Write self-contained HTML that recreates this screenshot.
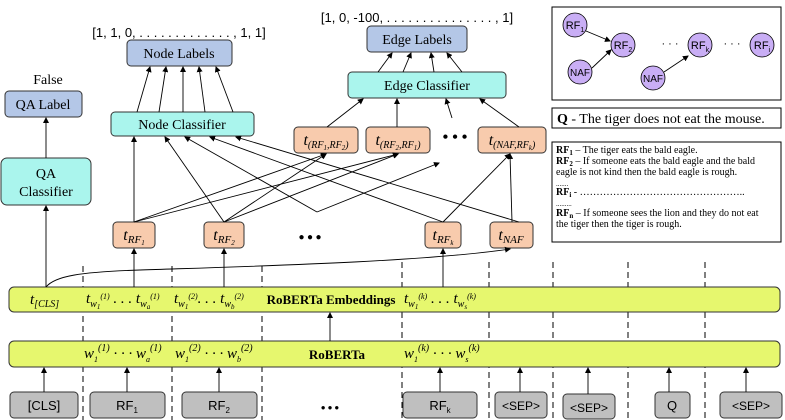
<!DOCTYPE html>
<html><head><meta charset="utf-8"><style>
body{margin:0;background:#fff}
svg{display:block}
text{font-family:"Liberation Serif",serif;fill:#000}
.s{font-family:"Liberation Sans",sans-serif}
.i{font-style:italic}
</style></head><body>
<svg width="785" height="420" viewBox="0 0 785 420" xmlns="http://www.w3.org/2000/svg">
<defs><marker id="a" markerWidth="6" markerHeight="6" refX="5" refY="3" orient="auto" markerUnits="userSpaceOnUse"><path d="M0,0 L6,3 L0,6 z" fill="#000"/></marker></defs>
<g stroke="#000" stroke-width="1" fill="none">
<g stroke-dasharray="6,4">
<line x1="83" y1="266" x2="83" y2="420"/><line x1="172" y1="266" x2="172" y2="420"/><line x1="262" y1="266" x2="262" y2="420"/><line x1="402" y1="262" x2="402" y2="420"/><line x1="489" y1="262" x2="489" y2="420"/><line x1="553" y1="262" x2="553" y2="420"/><line x1="628" y1="262" x2="628" y2="420"/><line x1="705" y1="262" x2="705" y2="420"/>
</g>
</g>
<g stroke="#333" stroke-width="1">
<rect x="127" y="40" width="105" height="26" rx="4" fill="#b4c7e7"/>
<rect x="367" y="26" width="100" height="26" rx="4" fill="#b4c7e7"/>
<rect x="5" y="91" width="77" height="26" rx="4" fill="#b4c7e7"/>
<rect x="348" y="72" width="158" height="26" rx="4" fill="#aaf5ed"/>
<rect x="111" y="112" width="143" height="24" rx="4" fill="#aaf5ed"/>
<rect x="1" y="158" width="90" height="47" rx="6" fill="#aaf5ed"/>
<rect x="294" y="127" width="64" height="26" rx="4" fill="#f8cbad"/>
<rect x="366" y="127" width="64" height="26" rx="4" fill="#f8cbad"/>
<rect x="478" y="127" width="68" height="26" rx="4" fill="#f8cbad"/>
<rect x="113" y="222" width="42" height="26" rx="4" fill="#f8cbad"/>
<rect x="204" y="222" width="40" height="26" rx="4" fill="#f8cbad"/>
<rect x="425" y="222" width="36" height="26" rx="4" fill="#f8cbad"/>
<rect x="490" y="222" width="43" height="26" rx="4" fill="#f8cbad"/>
<rect x="9" y="287" width="771" height="25" rx="5" fill="#e6f76e"/>
<rect x="9" y="341" width="771" height="26" rx="5" fill="#e6f76e"/>
<g fill="#bfbfbf">
<rect x="10" y="392" width="68" height="26" rx="4"/><rect x="90" y="392" width="75" height="26" rx="4"/><rect x="182" y="392" width="75" height="26" rx="4"/><rect x="403" y="392" width="74" height="26" rx="4"/><rect x="495" y="392" width="52" height="26" rx="4"/><rect x="563" y="394" width="52" height="25" rx="4"/><rect x="655" y="392" width="35" height="26" rx="4"/><rect x="720" y="392" width="62" height="26" rx="4"/>
</g>
<rect x="552" y="7" width="229" height="93" fill="#fff" stroke="#000"/>
<rect x="552" y="108" width="229" height="20" fill="#fff" stroke="#000"/>
<rect x="552" y="142" width="229" height="100" fill="#fff" stroke="#000"/>
</g>
<g stroke="#000" stroke-width="0.9" fill="none" marker-end="url(#a)">
<line x1="46" y1="158" x2="46" y2="118"/>
<line x1="46" y1="287" x2="46" y2="206"/>
<line x1="137" y1="112" x2="150" y2="67"/><line x1="159" y1="112" x2="166" y2="67"/><line x1="183" y1="112" x2="183" y2="67"/><line x1="205" y1="112" x2="199" y2="67"/><line x1="233" y1="112" x2="216" y2="67"/>
<line x1="378" y1="72" x2="392" y2="53"/><line x1="403" y1="72" x2="411" y2="53"/><line x1="434" y1="72" x2="431" y2="53"/><line x1="462" y1="72" x2="447" y2="53"/>
<line x1="327" y1="127" x2="363" y2="99"/><line x1="397" y1="127" x2="397" y2="99"/><line x1="452" y1="118" x2="446" y2="99"/><line x1="519" y1="127" x2="480" y2="99"/>
<line x1="134" y1="222" x2="134" y2="137"/>
<line x1="134" y1="222" x2="326" y2="154"/><line x1="134" y1="222" x2="398" y2="154"/>
<line x1="224" y1="222" x2="165" y2="137"/><line x1="224" y1="222" x2="326" y2="154"/><line x1="224" y1="222" x2="398" y2="154"/>
<line x1="317" y1="212" x2="185" y2="137"/><line x1="317" y1="212" x2="439" y2="163"/>
<line x1="443" y1="222" x2="210" y2="137"/><line x1="443" y1="222" x2="510" y2="154"/>
<line x1="519" y1="222" x2="236" y2="137"/><line x1="512" y1="222" x2="510" y2="154"/>
<line x1="134" y1="287" x2="134" y2="249"/><line x1="224" y1="287" x2="224" y2="249"/><line x1="443" y1="287" x2="443" y2="249"/>
<path d="M46,287 C55,276 80,272 140,270 C260,266 420,262 510,249"/>
<line x1="330" y1="341" x2="330" y2="313"/>
<line x1="44" y1="392" x2="44" y2="368"/><line x1="127" y1="392" x2="127" y2="368"/><line x1="219" y1="392" x2="219" y2="368"/><line x1="440" y1="392" x2="440" y2="368"/><line x1="520" y1="392" x2="520" y2="368"/><line x1="588" y1="394" x2="588" y2="368"/><line x1="669" y1="392" x2="669" y2="368"/><line x1="746" y1="392" x2="746" y2="368"/>
<line x1="586" y1="31" x2="610" y2="41"/><line x1="592" y1="68" x2="611" y2="50"/><line x1="664" y1="72" x2="688" y2="56"/>
</g>
<g fill="#c9aef5" stroke="#000" stroke-width="0.8">
<circle cx="575" cy="25" r="12"/><circle cx="623" cy="45" r="12"/><circle cx="580" cy="72" r="12"/><circle cx="700" cy="45" r="12"/><circle cx="653" cy="78" r="12"/><circle cx="762" cy="45" r="12"/>
</g>
<g class="s" font-size="11" text-anchor="middle">
<text x="575" y="29" class="s">RF<tspan font-size="7" dy="3">1</tspan></text>
<text x="623" y="49" class="s">RF<tspan font-size="7" dy="3">2</tspan></text>
<text x="580" y="76" class="s" font-size="10">NAF</text>
<text x="700" y="49" class="s">RF<tspan font-size="7" dy="3">k</tspan></text>
<text x="653" y="82" class="s" font-size="10">NAF</text>
<text x="762" y="49" class="s">RF<tspan font-size="7" dy="3">i</tspan></text>
<text x="670" y="47" class="s">· · ·</text><text x="732" y="47" class="s">· · ·</text>
</g>
<g font-size="14" text-anchor="middle">
<text x="179" y="58">Node Labels</text>
<text x="417" y="44">Edge Labels</text>
<text x="43" y="109">QA Label</text>
<text x="427" y="90">Edge Classifier</text>
<text x="182" y="129">Node Classifier</text>
<text x="46" y="178">QA</text><text x="46" y="196">Classifier</text>
<text x="48" y="84">False</text>
<text x="179" y="37" class="s" font-size="13">[1, 1, 0, . . . . . . . . . . . . . , 1, 1]</text>
<text x="417" y="22" class="s" font-size="13">[1, 0, -100, . . . . . . . . . . . . . . . , 1]</text>
</g>
<g font-size="16" class="i" text-anchor="middle">
<text x="326" y="145">t<tspan font-size="10" dy="3">(RF<tspan font-size="7" dy="2">1</tspan><tspan dy="-2">,RF</tspan><tspan font-size="7" dy="2">2</tspan><tspan dy="-2">)</tspan></tspan></text>
<text x="398" y="145">t<tspan font-size="10" dy="3">(RF<tspan font-size="7" dy="2">2</tspan><tspan dy="-2">,RF</tspan><tspan font-size="7" dy="2">1</tspan><tspan dy="-2">)</tspan></tspan></text>
<text x="512" y="145">t<tspan font-size="10" dy="3">(NAF,RF<tspan font-size="7" dy="2">k</tspan><tspan dy="-2">)</tspan></tspan></text>
<text x="134" y="240">t<tspan font-size="11" dy="3">RF<tspan font-size="7" dy="2">1</tspan></tspan></text>
<text x="224" y="240">t<tspan font-size="11" dy="3">RF<tspan font-size="7" dy="2">2</tspan></tspan></text>
<text x="443" y="240">t<tspan font-size="11" dy="3">RF<tspan font-size="7" dy="2">k</tspan></tspan></text>
<text x="511" y="240">t<tspan font-size="11" dy="3">NAF</tspan></text>
</g>
<g fill="#1f3864" font-size="16" font-weight="bold" text-anchor="middle">
<text x="455" y="142" fill="#1f3864">• • •</text>
<text x="310" y="240" fill="#1f3864" font-size="10">●  ●  ●</text>
<text x="330" y="410" fill="#1f3864" font-size="8">●  ●  ●</text>
</g>
<g font-size="15">
<text x="30" y="304" class="i">t<tspan font-size="10" dy="3">[CLS]</tspan></text>
<text x="86" y="303" class="i">t<tspan font-size="10" dy="4">w</tspan><tspan font-size="7" dy="2">1</tspan><tspan font-size="8" dy="-10">(1)</tspan><tspan dy="4"> . . . t</tspan><tspan font-size="10" dy="4">w</tspan><tspan font-size="7" dy="2">a</tspan><tspan font-size="8" dy="-10">(1)</tspan></text>
<text x="174" y="303" class="i">t<tspan font-size="10" dy="4">w</tspan><tspan font-size="7" dy="2">1</tspan><tspan font-size="8" dy="-10">(2)</tspan><tspan dy="4">. . .  t</tspan><tspan font-size="10" dy="4">w</tspan><tspan font-size="7" dy="2">b</tspan><tspan font-size="8" dy="-10">(2)</tspan></text>
<text x="331" y="304" font-weight="bold" font-size="13" text-anchor="middle">RoBERTa Embeddings</text>
<text x="404" y="303" class="i">t<tspan font-size="10" dy="4">w</tspan><tspan font-size="7" dy="2">1</tspan><tspan font-size="8" dy="-10">(k)</tspan><tspan dy="4"> . . . t</tspan><tspan font-size="10" dy="4">w</tspan><tspan font-size="7" dy="2">s</tspan><tspan font-size="8" dy="-10">(k)</tspan></text>
<text x="84" y="358" class="i">w<tspan font-size="8" dy="4">1</tspan><tspan font-size="10" dy="-11">(1)</tspan><tspan dy="7"> · · · w</tspan><tspan font-size="8" dy="4">a</tspan><tspan font-size="10" dy="-11">(1)</tspan></text>
<text x="175" y="358" class="i">w<tspan font-size="8" dy="4">1</tspan><tspan font-size="10" dy="-11">(2)</tspan><tspan dy="7"> · · · w</tspan><tspan font-size="8" dy="4">b</tspan><tspan font-size="10" dy="-11">(2)</tspan></text>
<text x="337" y="359" font-weight="bold" font-size="13" text-anchor="middle">RoBERTa</text>
<text x="404" y="358" class="i">w<tspan font-size="8" dy="4">1</tspan><tspan font-size="10" dy="-11">(k)</tspan><tspan dy="7"> · · · w</tspan><tspan font-size="8" dy="4">s</tspan><tspan font-size="10" dy="-11">(k)</tspan></text>
</g>
<g class="s" font-size="13" text-anchor="middle">
<text x="44" y="410" class="s">[CLS]</text>
<text x="127" y="410" class="s">RF<tspan font-size="8" dy="3">1</tspan></text>
<text x="219" y="410" class="s">RF<tspan font-size="8" dy="3">2</tspan></text>
<text x="440" y="410" class="s">RF<tspan font-size="8" dy="3">k</tspan></text>
<text x="521" y="410" class="s" font-size="12">&lt;SEP&gt;</text>
<text x="589" y="412" class="s" font-size="12">&lt;SEP&gt;</text>
<text x="672" y="410" class="s">Q</text>
<text x="751" y="410" class="s" font-size="12">&lt;SEP&gt;</text>
</g>
<text x="557" y="123" font-size="14"><tspan font-weight="bold">Q</tspan> - The tiger does not eat the mouse.</text>
<g font-size="10">
<text x="556" y="153"><tspan font-weight="bold">RF<tspan font-size="7" dy="2">1</tspan></tspan><tspan dy="-2"> – The tiger eats the bald eagle.</tspan></text>
<text x="556" y="164"><tspan font-weight="bold">RF<tspan font-size="7" dy="2">2</tspan></tspan><tspan dy="-2"> – If someone eats the bald eagle and the bald</tspan></text>
<text x="556" y="175">eagle is not kind then the bald eagle is rough.</text>
<text x="556" y="186" font-size="7">.......</text>
<text x="556" y="195"><tspan font-weight="bold">RF<tspan font-size="7" dy="2">i</tspan></tspan><tspan dy="-2"> - …………………………………………..</tspan></text>
<text x="556" y="206" font-size="7">.........</text>
<text x="556" y="216"><tspan font-weight="bold">RF<tspan font-size="7" dy="2">n</tspan></tspan><tspan dy="-2"> – If someone sees the lion and they do not eat</tspan></text>
<text x="556" y="227">the tiger then the tiger is rough.</text>
</g>
</svg>
</body></html>
